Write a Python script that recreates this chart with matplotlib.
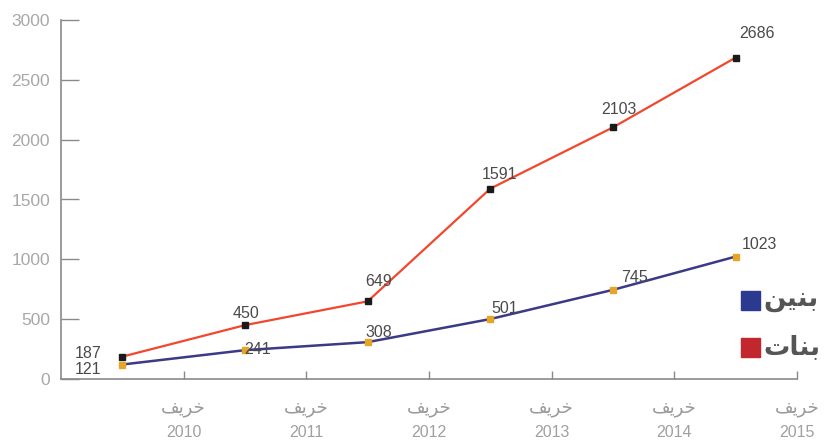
import matplotlib
matplotlib.use("Agg")
import matplotlib.pyplot as plt
from matplotlib.patches import Rectangle

plt.rcParams['font.family'] = ['Liberation Sans', 'DejaVu Sans']

# Data
seasons = ["2010", "2011", "2012", "2013", "2014", "2015"]
season_word = "\uFED2\uFEF3\uFEAE\uFEA7"  # خريف (shaped, visual order)
girls = [187, 450, 649, 1591, 2103, 2686]
boys = [121, 241, 308, 501, 745, 1023]
legend_boys = "\uFEE6\uFEF4\uFEE8\uFE91"   # بنين
legend_girls = "\uFE95\uFE8E\uFEE8\uFE91"  # بنات

# label offsets in pixels (dx, dy)
girls_offsets = [(-34, 3), (1, 12), (11, 20), (9, 14), (6, 18), (21, 24)]
boys_offsets = [(-34, -5), (13, 1), (11, 10), (14, 11), (22, 12), (24, 12)]

fig = plt.figure(figsize=(8.27, 4.4), dpi=100)
ax = fig.add_axes([61/827, 1-379/440, (797-61)/827, (379-20)/440])

x = list(range(len(seasons)))
ax.plot(x, girls, color="#F2472C", lw=1.6, zorder=2)
ax.plot(x, girls, ls="none", marker="s", ms=4, color="#1a1a1a", zorder=3)
ax.plot(x, boys, color="#3A3A86", lw=1.8, zorder=2)
ax.plot(x, boys, ls="none", marker="s", ms=4, color="#E5A526", zorder=3)

for xi, v, off in zip(x, girls, girls_offsets):
    ax.annotate(str(v), (xi, v), xytext=off, textcoords="offset pixels",
                ha="center", va="center", fontsize=11.5, color="#4a4a4a")
for xi, v, off in zip(x, boys, boys_offsets):
    ax.annotate(str(v), (xi, v), xytext=off, textcoords="offset pixels",
                ha="center", va="center", fontsize=11.5, color="#4a4a4a")

ax.set_xlim(-0.5, 5.5)
ax.set_ylim(0, 3000)
ax.set_yticks(range(0, 3001, 500))
tick_pos = [i + 0.5 for i in x]
ax.set_xticks(tick_pos)
ax.set_xticklabels(seasons)
ax.xaxis.remove_overlapping_locs = False
ax.set_xticks(tick_pos, minor=True)
ax.set_xticklabels([season_word] * len(seasons), minor=True)

for s in ["top", "right"]:
    ax.spines[s].set_visible(False)
for s in ["left", "bottom"]:
    ax.spines[s].set_color("#8a8a8a")
    ax.spines[s].set_linewidth(1.2)

ax.tick_params(axis="y", direction="in", length=13, width=1, color="#8a8a8a",
               labelsize=12.5, labelcolor="#a8a8a8", pad=8)
ax.tick_params(axis="x", which="major", direction="in", length=6, width=1,
               color="#8a8a8a", labelsize=11.5, labelcolor="#a0a0a0", pad=33)
ax.tick_params(axis="x", which="minor", direction="in", length=0,
               labelsize=13, labelcolor="#9a9a9a", pad=15)

# Legend (manual)
items = [(legend_boys, "#2B3990", 300), (legend_girls, "#C1272D", 347)]
for txt, col, ypix in items:
    fy = 1 - ypix/440
    fig.patches.append(Rectangle((741/827, fy - 9.5/440), 19/827, 19/440,
                                 transform=fig.transFigure, color=col, figure=fig))
    fig.text(763/827, fy, txt, fontsize=19, fontweight="bold", color="#555555",
             ha="left", va="center", family="DejaVu Sans")

fig.savefig("out.png", dpi=100)
